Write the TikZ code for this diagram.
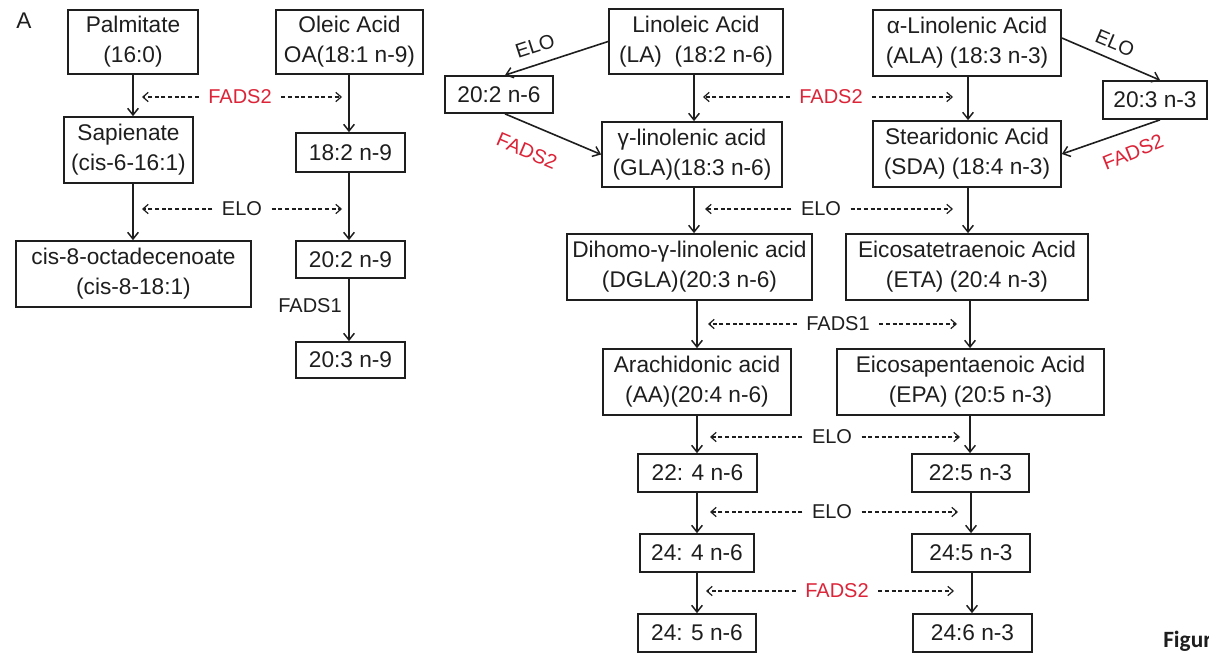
\documentclass[tikz,border=0pt]{standalone}
\usepackage{fontspec}
\setmainfont{Liberation Sans}
\newfontfamily\figfont{Carlito}
\usetikzlibrary{arrows.meta,calc}
\definecolor{ink}{RGB}{30,30,30}
\definecolor{fadsred}{RGB}{220,35,55}
\newcommand\bx[6]{\node[box, minimum width={(#4-#2)*0.75pt}, minimum height={(#5-#3)*0.75pt}] (#1) at ({(#2+#4)/2},{(#3+#5)/2}) {#6};}
\begin{document}
\begin{tikzpicture}[x=0.75pt,y=-0.75pt,
  every node/.style={text=ink},
  box/.style={draw=ink, line width=1.3pt, inner sep=0pt, align=center,
    font=\fontsize{17pt}{22.5pt}\selectfont},
  arr/.style={draw=ink, line width=1.2pt, -{Straight Barb[length=5pt,width=8pt,line width=1.1pt]}},
  darr/.style={draw=ink, line width=0.9pt, dash pattern=on 3pt off 2pt, -{Straight Barb[length=4pt,width=7pt,line width=0.9pt]}},
  lab/.style={inner xsep=7pt, inner ysep=0pt, font=\fontsize{15pt}{18pt}\selectfont},
  redlab/.style={lab, text=fadsred},
  dlab/.style={inner sep=0pt, font=\fontsize{15pt}{18pt}\selectfont}
]
\fill[white] (0,0) rectangle (1209,657);
\useasboundingbox (0,0) rectangle (1209,657);

\node[font=\fontsize{17pt}{20pt}\selectfont] (A) at (24,21) {A};
\node[font=\figfont\bfseries\fontsize{17.5pt}{20pt}\selectfont, anchor=base west, inner sep=0pt] (fig) at (1163,647) {Figur};

% left part
\bx{palm}{68}{10}{198}{74}{Palmitate\\(16:0)}
\bx{oleic}{276}{10}{423}{74}{Oleic Acid\\OA(18:1 n-9)}
\bx{sap}{64}{117}{193}{183}{Sapienate\\(cis-6-16:1)}
\bx{n9a}{296}{133}{405}{172}{18:2 n-9}
\bx{cis8}{16}{241}{251}{307}{cis-8-octadecenoate\\(cis-8-18:1)}
\bx{n9b}{296}{241}{405}{278}{20:2 n-9}
\bx{n9c}{296}{342}{405}{378}{20:3 n-9}

% n-6 column
\bx{la}{609}{9}{783}{74}{Linoleic Acid\\(LA)\ \ (18:2 n-6)}
\bx{n6a}{445}{76}{553}{113}{20:2 n-6}
\bx{gla}{602}{122}{782}{187}{γ-linolenic acid\\(GLA)(18:3 n-6)}
\bx{dgla}{567}{234}{812}{300}{Dihomo-γ-linolenic acid\\(DGLA)(20:3 n-6)}
\bx{aa}{603}{349}{791}{415}{Arachidonic acid\\(AA)(20:4 n-6)}
\bx{n6d}{638}{454}{757}{492}{22: 4 n-6}
\bx{n6e}{640}{534}{754}{572}{24: 4 n-6}
\bx{n6f}{638}{614}{756}{652}{24: 5 n-6}

% n-3 column
\bx{ala}{873}{10}{1061}{76}{α-Linolenic Acid\\(ALA) (18:3 n-3)}
\bx{n3a}{1103}{81}{1207}{119}{20:3 n-3}
\bx{sda}{873}{121}{1061}{187}{Stearidonic Acid\\(SDA) (18:4 n-3)}
\bx{eta}{846}{234}{1088}{300}{Eicosatetraenoic Acid\\(ETA) (20:4 n-3)}
\bx{epa}{837}{349}{1104}{415}{Eicosapentaenoic Acid\\(EPA) (20:5 n-3)}
\bx{n3d}{912}{454}{1029}{492}{22:5 n-3}
\bx{n3e}{912}{534}{1030}{572}{24:5 n-3}
\bx{n3f}{913}{614}{1032}{652}{24:6 n-3}

% solid vertical arrows
\draw[arr] (palm.south -| 133,0) -- (sap.north -| 133,0);
\draw[arr] (sap.south -| 133,0) -- (cis8.north -| 133,0);
\draw[arr] (oleic.south -| 349,0) -- (n9a.north -| 349,0);
\draw[arr] (n9a.south -| 349,0) -- (n9b.north -| 349,0);
\draw[arr] (n9b.south -| 349,0) -- (n9c.north -| 349,0);

\draw[arr] (la.south -| 694,0) -- (gla.north -| 694,0);
\draw[arr] (gla.south -| 694,0) -- (dgla.north -| 694,0);
\draw[arr] (dgla.south -| 697,0) -- (aa.north -| 697,0);
\draw[arr] (aa.south -| 697,0) -- (n6d.north -| 697,0);
\draw[arr] (n6d.south -| 697,0) -- (n6e.north -| 697,0);
\draw[arr] (n6e.south -| 697,0) -- (n6f.north -| 697,0);

\draw[arr] (ala.south -| 968,0) -- (sda.north -| 968,0);
\draw[arr] (sda.south -| 968,0) -- (eta.north -| 968,0);
\draw[arr] (eta.south -| 970,0) -- (epa.north -| 970,0);
\draw[arr] (epa.south -| 970,0) -- (n3d.north -| 970,0);
\draw[arr] (n3d.south -| 971,0) -- (n3e.north -| 971,0);
\draw[arr] (n3e.south -| 972,0) -- (n3f.north -| 972,0);

% diagonal arrows
\draw[arr] (la.west) -- ($(n6a.north)+(6,0)$);
\draw[arr] ($(n6a.south)+(6,0)$) -- (gla.west);
\draw[arr] (ala.east |- 0,38) -- ($(n3a.north)+(5,0)$);
\draw[arr] ($(n3a.south)+(5,0)$) -- (sda.east);
\node[dlab, rotate=18] (eloL) at (535,46) {ELO};
\node[dlab, rotate=-23, text=fadsred] (fadsL) at (527,151) {FADS2};
\node[dlab, rotate=-23] (eloR) at (1115,43) {ELO};
\node[dlab, rotate=22, text=fadsred] (fadsR) at (1133,152) {FADS2};

% FADS1 label on left
\node[dlab] (fads1L) at (310,306) {FADS1};

% dashed enzyme arrows
\node[redlab] (e1) at (240,97) {FADS2};
\coordinate (e1l) at (142,97); \coordinate (e1r) at (342,97);
\node[lab] (e2) at (242,209) {ELO};
\coordinate (e2l) at (142,209); \coordinate (e2r) at (342,209);
\node[redlab] (e3) at (831,97) {FADS2};
\coordinate (e3l) at (703,97); \coordinate (e3r) at (953,97);
\node[lab] (e4) at (821,209) {ELO};
\coordinate (e4l) at (705,209); \coordinate (e4r) at (953,209);
\node[lab] (e5) at (838,324) {FADS1};
\coordinate (e5l) at (708,324); \coordinate (e5r) at (957,324);
\node[lab] (e6) at (832,437) {ELO};
\coordinate (e6l) at (710,437); \coordinate (e6r) at (960,437);
\node[lab] (e7) at (832,512) {ELO};
\coordinate (e7l) at (710,512); \coordinate (e7r) at (958,512);
\node[redlab] (e8) at (837,591) {FADS2};
\coordinate (e8l) at (706,591); \coordinate (e8r) at (954,591);
\foreach \e in {e1,e2,e3,e4,e5,e6,e7,e8}{
  \draw[darr] (\e.west) -- (\e l);
  \draw[darr] (\e.east) -- (\e r);
}
\end{tikzpicture}
\end{document}
